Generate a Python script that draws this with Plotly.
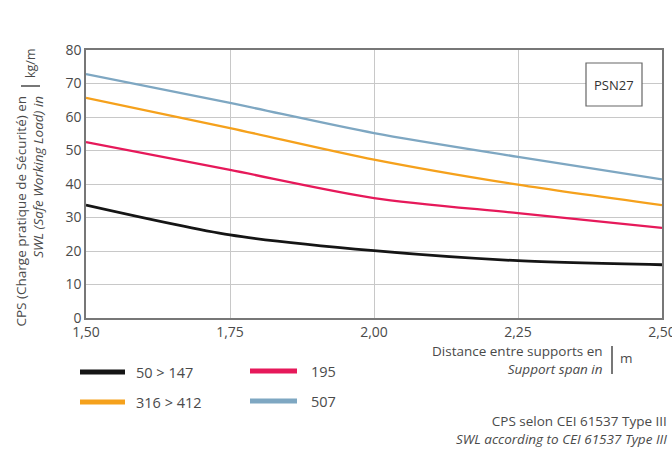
import plotly.graph_objects as go

span = [1.50, 1.75, 2.00, 2.25, 2.50]
series_names = ["50 > 147", "195", "316 > 412", "507"]
swl_50_147 = [33.7, 24.8, 20.1, 17.1, 15.9]
swl_195 = [52.5, 44.2, 35.8, 31.3, 26.9]
swl_316_412 = [65.7, 56.7, 47.3, 39.8, 33.7]
swl_507 = [72.8, 64.2, 55.2, 48.1, 41.4]
colors = ["#151515", "#e6195a", "#f5a11c", "#7ea7c2"]
widths = [2.8, 2.3, 2.3, 2.3]
x_ticks = [1.50, 1.75, 2.00, 2.25, 2.50]
x_tick_labels = ["1,50", "1,75", "2,00", "2,25", "2,50"]
y_ticks = [0, 10, 20, 30, 40, 50, 60, 70, 80]

W, H = 672, 451
L, R, T, B = 86, 10, 50, 133
pw, ph = W - L - R, H - T - B

def px(x):
    return (x - L) / pw

def py(y):
    return (H - B - y) / ph

FONT = "Open Sans"
TXT = "#4a4a4a"

fig = go.Figure()
for name, vals, c, w in zip(series_names, [swl_50_147, swl_195, swl_316_412, swl_507], colors, widths):
    fig.add_trace(go.Scatter(x=span, y=vals, mode="lines", name=name,
                             line=dict(color=c, width=w, shape="spline", smoothing=0.8),
                             showlegend=False, hoverinfo="skip"))

shapes = []
annotations = []

# legend (manual, 2x2)
leg = [(0, 80, 125, 372, 134), (1, 250, 297, 371, 309), (2, 80, 125, 402, 134), (3, 250, 297, 401, 309)]
for i, x0, x1, yy, tx in leg:
    shapes.append(dict(type="line", xref="paper", yref="paper", x0=px(x0), x1=px(x1),
                       y0=py(yy), y1=py(yy), line=dict(color=colors[i], width=5)))
    annotations.append(dict(xref="paper", yref="paper", x=px(tx), y=py(yy), text=series_names[i],
                            xanchor="left", yanchor="middle", showarrow=False,
                            font=dict(family=FONT, size=14.5, color=TXT)))

# PSN27 box
shapes.append(dict(type="rect", xref="paper", yref="paper", x0=px(586), x1=px(642), y0=py(106), y1=py(63),
                   line=dict(color="#666", width=1.2), fillcolor="white"))
annotations.append(dict(xref="paper", yref="paper", x=px(614), y=py(85), text="PSN27", showarrow=False,
                        xanchor="center", yanchor="middle", font=dict(family=FONT, size=13, color="#333")))

# y-axis title
annotations.append(dict(xref="paper", yref="paper", x=px(29), y=py(94), textangle=-90,
                        text="CPS (Charge pratique de Sécurité) en<br><i>SWL (Safe Working Load) in</i>",
                        align="right", xanchor="center", yanchor="top", showarrow=False,
                        font=dict(family=FONT, size=13.5, color=TXT)))
shapes.append(dict(type="line", xref="paper", yref="paper", x0=px(21), x1=px(40), y0=py(86), y1=py(86),
                   line=dict(color=TXT, width=1.5)))
annotations.append(dict(xref="paper", yref="paper", x=px(30), y=py(80), textangle=-90, text="kg/m",
                        xanchor="center", yanchor="bottom", showarrow=False,
                        font=dict(family=FONT, size=12.5, color=TXT)))

# x-axis title
annotations.append(dict(xref="paper", yref="paper", x=px(605), y=py(360),
                        text="Distance entre supports en<br><i>Support span in</i>",
                        align="right", xanchor="right", yanchor="middle", showarrow=False,
                        font=dict(family=FONT, size=13.5, color=TXT)))
shapes.append(dict(type="line", xref="paper", yref="paper", x0=px(612), x1=px(612), y0=py(346), y1=py(374),
                   line=dict(color=TXT, width=1.5)))
annotations.append(dict(xref="paper", yref="paper", x=px(618), y=py(358), text="m",
                        xanchor="left", yanchor="middle", showarrow=False,
                        font=dict(family=FONT, size=13.5, color=TXT)))

# footer
annotations.append(dict(xref="paper", yref="paper", x=px(669), y=py(430),
                        text="CPS selon CEI 61537 Type III<br><i>SWL according to CEI 61537 Type III</i>",
                        align="right", xanchor="right", yanchor="middle", showarrow=False,
                        font=dict(family=FONT, size=13.5, color=TXT)))

fig.update_layout(
    width=W, height=H,
    margin=dict(l=L, r=R, t=T, b=B, autoexpand=False),
    paper_bgcolor="white", plot_bgcolor="white",
    font=dict(family=FONT, size=14, color=TXT),
    shapes=shapes, annotations=annotations,
    hovermode=False,
    xaxis=dict(range=[1.5, 2.5], tickvals=x_ticks, ticktext=x_tick_labels,
               showgrid=True, gridcolor="#c8c8c8", gridwidth=1,
               showline=True, linecolor="#777", linewidth=1.5, mirror=True,
               ticks="", zeroline=False, tickfont=dict(size=14, color=TXT),
               ticklabeloverflow="allow", automargin=False),
    yaxis=dict(range=[0, 80], tickvals=y_ticks,
               showgrid=True, gridcolor="#c8c8c8", gridwidth=1,
               showline=True, linecolor="#777", linewidth=1.5, mirror=True,
               ticks="", zeroline=False, tickfont=dict(size=14, color=TXT),
               automargin=False),
)

fig.write_html("out.html", config={"displayModeBar": False})

# remove default page margin so the figure sits at the window's top-left corner
with open("out.html", encoding="utf-8") as f:
    html = f.read()
html = html.replace("<body>", '<body style="margin:0;padding:0;overflow:hidden">', 1)
with open("out.html", "w", encoding="utf-8") as f:
    f.write(html)
